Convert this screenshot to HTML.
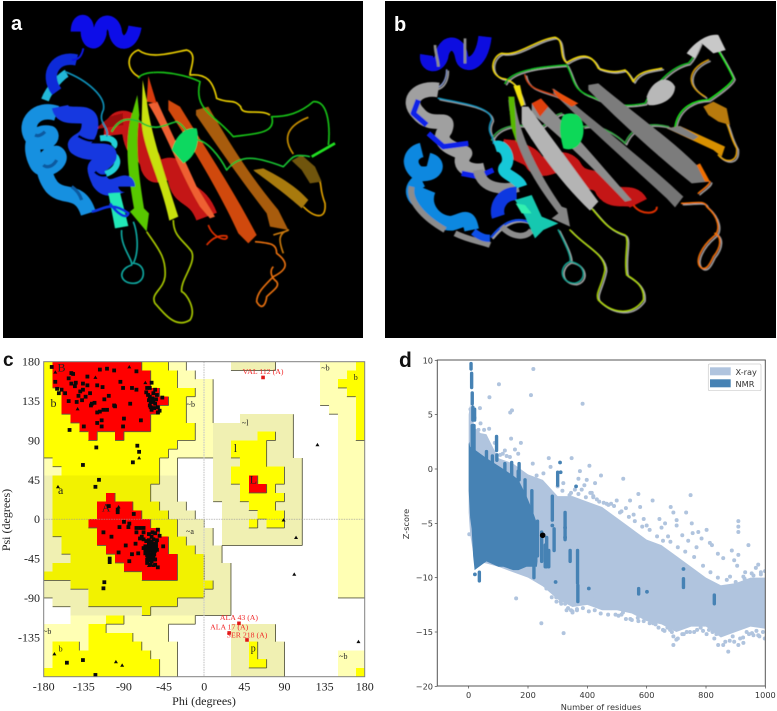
<!DOCTYPE html>
<html lang="en">
<head>
<meta charset="utf-8">
<title>Protein structure and validation figure</title>
<style>
html,body{margin:0;padding:0;background:#fff;width:777px;height:711px;overflow:hidden}
svg{display:block}
.lbl{font-family:"Liberation Sans",sans-serif;font-weight:700}
.serif{font-family:"Liberation Serif",serif}
.dv{font-family:"DejaVu Sans",sans-serif}
</style>
</head>
<body>
<svg id="fig" xmlns="http://www.w3.org/2000/svg" width="777" height="711" viewBox="0 0 777 711">
<defs>
<filter id="soft" x="-5%" y="-5%" width="110%" height="110%"><feGaussianBlur stdDeviation="1.4"/></filter>
<clipPath id="clipD"><rect x="437.3" y="360" width="328" height="326"/></clipPath>
</defs>

<!-- PANEL A -->
<rect x="3" y="1" width="360" height="337" fill="#000"/>
<g transform="scale(.33333)" filter="url(#soft)" fill="none" stroke-linejoin="round" stroke-linecap="butt">
  <path d="M345 405C340 355 390 350 400 400C410 470 445 440 455 500C475 545 510 470 535 530C545 600 590 570 620 650" stroke="#c41212" stroke-width="66"/>
  <path d="M285 388L330 350L368 340L370 375Z" fill="#981010"/>
  <path d="M625 675C640 720 690 725 680 708C660 705 640 710 620 735" stroke="#e03000" stroke-width="5"/>
  <path d="M910 620C940 650 980 665 975 610C960 570 965 560 960 545" stroke="#e0a000" stroke-width="5"/>
  <path d="M880 462C850 420 855 380 925 352" stroke="#c89000" stroke-width="5"/>
  <path d="M420 232C380 215 375 165 415 150C450 178 510 160 560 150C595 160 570 205 570 225C620 220 640 245 650 295C690 312 700 295 722 320C725 350 780 325 810 345" stroke="#e8cc00" stroke-width="5"/>
  <path d="M875 482L905 465L945 500L965 545L930 550L905 510Z" fill="#70540c"/>
  <path d="M760 510L790 505C840 530 890 560 925 600L905 625C860 585 800 540 765 515Z" fill="#a87a10"/>
  <path d="M588 330L625 320C700 450 760 540 835 630L865 690L810 680L800 640C730 550 660 450 588 345Z" fill="#a85c08"/>
  <path d="M505 300L540 320C620 450 700 570 770 705L745 730L715 700C670 600 590 460 505 330Z" fill="#d04808"/>
  <path d="M445 312L472 305C510 390 550 470 590 560L645 650L630 655L600 620C540 520 500 400 445 312Z" fill="#ee6030"/>
  <path d="M445 228L440 305L470 310Z" fill="#d83a10"/>
  <path d="M428 240L440 300C450 390 490 510 535 650L508 662C480 530 425 440 425 360Z" fill="#c8e010"/>
  <path d="M412 285L395 345C375 420 380 500 402 625L390 635L440 695L447 640L432 625C415 520 405 430 418 345Z" fill="#58c800"/>
  <path d="M170 340C110 320 70 370 95 410C120 440 165 420 150 400C100 390 85 440 110 490C130 530 200 480 170 460C120 460 125 520 155 560C190 600 240 560 265 640" stroke="#1890e0" stroke-width="46"/>
  <path d="M135 395C125 405 115 410 105 405M170 480C160 500 140 505 130 495M215 560C230 570 240 585 245 600" stroke="#0c5aa0" stroke-width="10"/>
  <path d="M135 300C150 260 190 225 200 220" stroke="#20b8d8" stroke-width="24"/>
  <path d="M300 415C340 410 350 430 340 440M300 525C350 520 365 480 340 465" stroke="#20d0d8" stroke-width="18"/>
  <path d="M230 180C170 165 130 220 170 275" stroke="#0a2ad8" stroke-width="34"/>
  <path d="M180 320C190 370 270 320 270 370C270 430 220 420 230 440C270 470 330 440 325 470C300 510 270 480 300 545C330 590 380 530 380 560" stroke="#1238e0" stroke-width="50"/>
  <path d="M235 408C255 420 275 425 290 420M285 515C295 525 305 530 320 525" stroke="#000" stroke-width="8"/>
  <path d="M232 95C232 55 262 55 262 90C260 130 290 140 300 100C300 60 335 55 345 90C350 140 395 140 405 80" stroke="#0a10e8" stroke-width="40"/>
  <path d="M250 145C245 170 235 180 215 180" stroke="#0a14e0" stroke-width="6"/>
  <path d="M325 580L345 685L385 678L360 578Z" fill="#20e8b8"/>
  <path d="M275 635C310 630 330 600 385 640C380 660 350 640 330 610" stroke="#1030e0" stroke-width="8"/>
  <path d="M195 215C260 240 320 290 310 330C290 370 330 380 320 410" stroke="#1090b8" stroke-width="5"/>
  <path d="M365 690C360 740 400 780 395 795C350 810 360 850 400 850C440 850 440 790 400 790C420 750 410 690 400 665" stroke="#10a8a0" stroke-width="5"/>
  <path d="M440 695C470 740 500 770 495 830C490 870 450 880 465 910C500 950 530 985 570 960C590 930 560 880 545 875C540 840 590 790 575 755C550 720 520 710 520 660" stroke="#a8c800" stroke-width="5"/>
  <path d="M765 725C810 730 830 730 830 760C870 790 860 810 820 830C790 860 770 880 770 905C790 940 800 900 800 890C820 870 840 860 830 845C810 830 810 810 820 800" stroke="#e87010" stroke-width="5"/>
  <path d="M820 705C850 695 860 695 865 690C835 700 835 720 850 760" stroke="#c87808" stroke-width="5"/>
  <path d="M415 235C430 205 540 215 600 245C580 330 640 340 700 410C770 400 830 400 815 350C860 350 900 340 940 305C990 300 990 400 985 435" stroke="#18c018" stroke-width="5"/>
  <path d="M335 395C360 350 390 355 420 365C470 400 500 370 530 365C560 380 560 410 590 420C620 420 660 470 680 510C720 460 770 470 850 500C880 470 880 460 930 470" stroke="#18c030" stroke-width="5"/>
  <path d="M515 450C530 400 560 380 590 385C600 420 590 470 550 490Z" fill="#10d860"/>
  <path d="M935 470L1005 430" stroke="#20e020" stroke-width="8"/>
</g>
<text class="lbl" x="11" y="30" font-size="20" fill="#fff">a</text>

<!-- PANEL B -->
<rect x="385" y="1" width="391" height="337" fill="#000"/>
<g id="proteinB" transform="translate(385 0) scale(.33333)" filter="url(#soft)" fill="none" stroke-linejoin="round" stroke-linecap="butt">
  <path d="M385 420C380 470 430 450 450 490C490 520 520 460 560 500C590 560 640 520 660 570C690 610 740 570 760 610" stroke="#c41212" stroke-width="58"/>
  <path d="M745 615C770 650 820 640 815 620" stroke="#e03000" stroke-width="6"/>
  <g id="loopsB" stroke-linecap="round">
    <path class="lp" d="M415 310C400 260 385 240 350 235C310 220 320 170 350 160C400 170 450 120 510 112C540 120 520 170 545 188C590 160 620 160 640 205C680 220 700 215 720 210C740 230 740 240 745 245C760 210 810 210 830 205" stroke="#e8d000" stroke-width="5"/>
    <path class="lp" d="M360 250C380 210 470 200 545 195C570 240 560 270 620 290C680 320 730 320 780 310C810 250 860 200 910 190C930 170 940 140 945 130" stroke="#10b820" stroke-width="5"/>
    <path class="lp" d="M870 380C880 320 930 300 970 300C1000 280 1040 250 1045 235C1030 200 1010 170 990 135" stroke="#18e018" stroke-width="5"/>
    <path class="lp" d="M1000 465C1020 490 1060 490 1055 445C1035 410 1035 390 1025 370" stroke="#e0a000" stroke-width="5"/>
    <path class="lp" d="M970 180C920 200 890 250 960 290" stroke="#d09800" stroke-width="5"/>
    <path class="lp" d="M320 420C340 370 420 370 460 385C490 375 500 345 530 340M595 380C640 370 690 400 720 430C740 380 790 365 850 380" stroke="#30a040" stroke-width="5"/>
    <path class="lp" d="M160 295C230 310 320 320 320 360C300 400 330 410 325 430" stroke="#1090b8" stroke-width="5"/>
    <path class="lp" d="M520 690C540 730 560 770 555 785C520 800 525 850 570 850C610 840 600 790 555 785" stroke="#10a090" stroke-width="5"/>
    <path class="lp" d="M555 690C600 740 660 760 660 810C650 860 630 880 640 900C680 940 740 950 775 900C780 860 750 840 725 825C715 770 735 720 720 705C670 690 650 660 620 625" stroke="#a8d000" stroke-width="5"/>
    <path class="lp" d="M890 610C930 610 960 600 965 620C1000 650 1010 690 985 710C950 740 930 780 945 800C965 820 980 780 985 770C1010 740 1010 710 990 700" stroke="#f07000" stroke-width="5"/>
    <path class="lp" d="M940 580C950 570 975 555 975 545" stroke="#f07000" stroke-width="5"/>
    <path class="lp" d="M320 710C360 660 400 650 440 670" stroke="#1048e0" stroke-width="7"/>
    <path class="lp" d="M420 225C430 280 490 270 540 300" stroke="#c84010" stroke-width="5"/>
    <path class="lp" d="M185 210C185 235 175 260 150 265" stroke="#8090c0" stroke-width="5"/>
  </g>
  <path d="M845 385L885 378L1020 440L1010 470L985 450Z" fill="#d89000"/>
  <path d="M845 385L885 378L940 410L925 420Z" fill="#808080"/>
  <path d="M955 320L985 305L1025 325L1035 375L1000 365L970 345Z" fill="#b87a10"/>
  <path d="M610 255L640 250C760 350 860 420 935 495L975 545L920 550C820 470 710 370 610 270Z" fill="#7c7c7c"/>
  <path d="M935 495L945 490L975 545L960 545Z" fill="#f07000"/>
  <path d="M505 265L540 290C660 390 790 490 895 590L870 622L845 595C730 490 620 390 505 280Z" fill="#747474"/>
  <path d="M500 265L580 310L560 320L520 295Z" fill="#e85010"/>
  <path d="M440 310L470 300C570 400 660 510 740 600L720 605C640 520 540 420 440 340Z" fill="#8c8c8c"/>
  <path d="M440 310L468 295L490 320L465 350Z" fill="#e04010"/>
  <path d="M410 320L430 320C490 400 570 510 640 605L615 632C540 560 470 470 410 370Z" fill="#b4b4b4"/>
  <path d="M385 258L405 255L418 315L408 320Z" fill="#f0e010"/>
  <path d="M370 300L388 295C400 400 460 520 530 620L545 625L555 680L500 655L520 640C450 550 380 440 370 300Z" fill="#858585"/>
  <path d="M370 290L388 290L395 430L378 380Z" fill="#58b800"/>
  <path d="M110 450C70 460 70 500 100 520C150 530 170 490 130 480M110 540C70 560 80 600 120 610M130 570C110 620 150 670 200 670C240 660 250 640 260 690" stroke="#1088e0" stroke-width="44"/>
  <path d="M80 560C70 600 110 650 180 690M210 700C250 720 290 725 315 735" stroke="#8c8c8c" stroke-width="18"/>
  <path d="M265 695C290 715 305 715 315 715" stroke="#0850e8" stroke-width="22"/>
  <path d="M160 270C100 260 60 300 100 340C140 390 200 340 180 390C150 430 210 450 240 460C210 500 260 520 300 510" stroke="#a0a0a0" stroke-width="44"/>
  <path d="M100 300L85 340L125 375M130 400L175 440L250 430M230 520L280 530L325 510" stroke="#0c20e8" stroke-width="16"/>
  <path d="M280 510C290 570 360 570 400 560" stroke="#909090" stroke-width="32"/>
  <path d="M330 440C360 430 380 480 360 500C340 520 400 530 410 560" stroke="#18c8d8" stroke-width="34"/>
  <path d="M395 580C350 580 330 620 340 650" stroke="#1038e0" stroke-width="40"/>
  <path d="M350 680C390 720 430 710 440 690" stroke="#8c8c8c" stroke-width="18"/>
  <path d="M390 600L440 585L470 650L520 670L475 690L450 715L420 650Z" fill="#18c8b0"/>
  <path d="M392 610L420 615L440 640L410 640Z" fill="#30f0b0"/>
  <path d="M125 165C120 200 160 205 170 170C175 125 220 115 230 170C235 205 290 200 300 110" stroke="#0a10e0" stroke-width="40"/>
  <path d="M150 135C150 160 160 180 160 200M240 115C240 145 240 170 240 190" stroke="#909090" stroke-width="8"/>
  <path d="M535 345C570 330 600 350 595 400C590 440 560 455 535 445C525 410 520 370 535 345Z" fill="#08d858"/>
  <path d="M785 290C800 240 850 220 870 260C870 300 820 320 790 315Z" fill="#b8b8b8"/>
  <path d="M905 160C930 125 970 100 1000 105L1022 150L985 160L950 130L930 175Z" fill="#c8c8c8"/>
</g>
<text class="lbl" x="394" y="31" font-size="20" fill="#fff">b</text>

<!-- PANEL C -->
<text class="lbl" x="3" y="366" font-size="19" fill="#111">c</text>
<g id="ramaRegions" shape-rendering="crispEdges"></g>
<path id="ramaEdges" fill="none" stroke="#5a5a40" stroke-width=".9"/>
<line x1="204" y1="361.7" x2="204" y2="676.7" stroke="#c8c8c8" stroke-width="1.2" stroke-dasharray="1.5 1"/>
<line x1="43.7" y1="519.2" x2="364.7" y2="519.2" stroke="#999" stroke-width=".6" stroke-dasharray="1.5 1"/>
<g id="ramaLabels" class="serif" fill="#222"></g>
<g id="ramaMarks"></g>
<g id="ramaOutliers"></g>
<rect x="43.7" y="361.7" width="321" height="315" fill="none" stroke="#808080" stroke-width="1"/>
<g id="ramaAxes" class="serif" font-size="12" fill="#222"></g>
<text class="serif" x="204" y="705" font-size="12" text-anchor="middle" fill="#222">Phi (degrees)</text>
<text class="serif" transform="translate(10 520) rotate(-90)" font-size="12" text-anchor="middle" fill="#222">Psi (degrees)</text>

<!-- PANEL D -->
<text class="lbl" x="399" y="367" font-size="21" fill="#111">d</text>
<g clip-path="url(#clipD)">
  <path id="xrayCloud" fill="#b0c4de"/>
  <g id="xrayPoints" fill="#b0c4de"></g>
  <path id="nmrCloud" fill="#4682b4"/>
  <g id="nmrStripes" stroke="#4682b4" stroke-width="3.4" stroke-linecap="round"></g>
  <g id="nmrPoints" fill="#4682b4"></g>
  <circle id="thisStructure" r="2.8" fill="#000"/>
</g>
<rect x="437.3" y="360" width="328" height="326" fill="none" stroke="#555" stroke-width="1"/>
<g id="zAxes" class="dv" font-size="8.2" fill="#333"></g>
<text class="dv" x="601" y="710" font-size="8.2" text-anchor="middle" fill="#333">Number of residues</text>
<text class="dv" transform="translate(409 524) rotate(-90)" font-size="8.2" text-anchor="middle" fill="#333">Z-score</text>
<g>
  <rect x="708.3" y="364" width="52.7" height="26.7" rx="1.5" fill="#fff" stroke="#ccc" stroke-width=".7"/>
  <rect x="710" y="367.3" width="20.7" height="8" fill="#b0c4de"/>
  <rect x="710" y="379.3" width="20.7" height="8" fill="#4682b4"/>
  <text class="dv" x="735.5" y="374.8" font-size="8.2" fill="#333">X-ray</text>
  <text class="dv" x="735.5" y="386.8" font-size="8.2" fill="#333">NMR</text>
</g>
</svg>

<script>
/* ---------- Ramachandran data (degrees) ---------- */
const phiTicks = [-180,-135,-90,-45,0,45,90,135,180];
const psiTicks = [180,135,90,45,0,-45,-90,-135];
/* rows: [psiTop, psiBottom, phiStart, phiEnd] */
const generousPale = [[180,170,-180,-20],[170,160,-180,-10],[160,70,-180,10],[70,50,-180,-30],[-110,-120,-150,-10],[-120,-140,-180,-40],[-140,-180,-180,-30],[180,130,130,180],[130,120,140,180],[120,-90,150,180],[-150,-180,150,180]];
const generousKhaki = [[50,20,-180,-30],[20,10,-180,-20],[10,0,-180,-10],[0,-10,-180,0],[-10,-30,-180,10],[-30,-50,-180,20],[-50,-90,-180,30],[-90,-100,-170,30],[-100,-110,-150,30],[180,170,30,80],[120,110,40,100],[110,70,10,100],[70,20,10,110],[20,-30,20,110],[-120,-140,30,80],[-140,-180,30,90]];
const allowedBright = [[180,170,-180,-40],[170,150,-180,-30],[150,140,-180,-10],[140,110,-180,-20],[110,90,-180,-10],[90,80,-180,-30],[80,70,-180,-40],[70,60,-170,-50],[60,50,-160,-50],[-110,-120,-110,-90],[-120,-130,-130,-110],[-130,-140,-130,-80],[-140,-150,-170,-140],[-140,-150,-130,-70],[-150,-160,-170,-60],[-160,-170,-170,-50],[-170,-180,-180,-50],[180,170,170,180],[170,160,160,180],[160,150,150,180],[150,140,160,180],[140,90,170,180],[-170,-180,170,180],[100,90,60,80],[90,70,30,70],[70,60,40,70],[60,40,30,90],[40,30,40,80],[30,20,40,90],[20,10,50,80],[10,0,60,90],[0,-10,50,60],[0,-10,70,90],[-140,-160,50,60],[-160,-170,50,70]];
const allowedDim = [[50,40,-170,-50],[40,20,-170,-60],[20,10,-170,-50],[10,0,-170,-40],[0,-20,-170,-30],[-20,-30,-160,-20],[-30,-40,-160,-10],[-40,-50,-150,0],[-50,-60,-170,0],[-60,-70,-180,0],[-70,-80,-150,10],[-80,-90,-130,0],[-90,-100,-130,-30],[-100,-110,-70,-60]];
const coreRed = [[180,170,-170,-70],[170,150,-170,-60],[150,140,-160,-50],[140,130,-160,-40],[130,120,-160,-50],[120,110,-150,-60],[110,100,-140,-60],[100,90,-130,-120],[100,90,-100,-90],[30,20,-110,-100],[20,10,-120,-80],[10,0,-120,-70],[0,-10,-130,-60],[-10,-20,-120,-50],[-20,-30,-120,-40],[-30,-40,-110,-40],[-40,-50,-100,-30],[-50,-60,-90,-30],[-60,-70,-70,-30],[50,40,50,60],[40,30,50,70]];
const regionLabelText = ["B","b","a","A","L","l","~l","~b","~a","~b","~b","b","b","~b","p"];
const regionLabelPhi  = [-160,-169,-161,-110,55,35,46,-15,-16,-176,136,170,-161,156,55];
const regionLabelPsi  = [169,128,29,9,41,77,107,128,-17,-131,170,159,-151,-160,-151];
const regionLabelSize = [12,12,12,12,12,12,8,8,8,8,8,8,8,8,10];
const squarePhi = [-171,-160,-156,-152,-149,-152,-147,-149,-144,-131,-136,-131,-136,-141,-143,-137,-133,-126,-127,-123,-120,-117,-109,-101,-114,-107,-112,-101,-100,-83,-94,-91,-81,-76,-76,-59,-64,-61,-55,-57,-61,-53,-47,-62,-60,-57,-55,-61,-59,-50,-52,-120,-117,-109,-113,-120,-115,-115,-135,-90,-91,-71,-151,-121,-75,-73,-136,-80,-118,-122,-107,-97,-97,-79,-90,-84,-85,-95,-113,-76,-72,-68,-76,-68,-62,-59,-50,-72,-68,-62,-57,-77,-88,-54,-46,-62,-58,-60,-56,-62,-58,-64,-60,-57,-53,-66,-81,-74,-84,-106,-106,-52,-64,-60,-55,-64,-55,-112,-113,-154,-136,-122,-167,-165,-163,-139,-145,-128,-104,-96,-58,-55,-52,-65,-62,-59,-56,-53,-66,-63,-60,-57,-54,-64,-61,-58,-55,-63,-60,-57,-62,-59,-56,-66,-61,-56,-68,-70,-63,-58,-54,-60,-56,-65,-52];
const squarePsi = [174,148,144,135,167,161,166,155,156,163,155,153,148,141,134,136,140,132,130,133,153,171,172,170,151,141,137,130,129,132,157,150,150,148,169,156,150,150,148,144,140,142,139,136,134,134,132,130,125,124,122,122,123,125,125,110,113,106,106,115,106,113,102,82,84,77,62,65,45,37,15,11,8,6,-3,-5,-9,-9,-15,-10,-10,-10,-15,-15,-17,-20,-19,-22,-23,-24,-23,-28,-30,-28,-31,-29,-29,-33,-33,-37,-37,-41,-41,-41,-35,-35,-40,-39,-48,-45,-49,-55,-50,-52,-52,-46,-46,-72,-79,-164,-161,-178,157,149,144,146,152,144,-20,-38,-15,-16,-12,-25,-27,-26,-28,-24,-31,-32,-30,-31,-32,-36,-35,-34,-36,-43,-44,-43,-47,-48,-46,-39,-29,-40,-33,-20,142,138,137,128,127,145,128];
const trianglePhi = [-167,-122,-84,-66,-142,-73,-164,-96,89,103,101,127,173,-168,-99,-92,-62,-57];
const trianglePsi = [168,162,174,156,126,70,37,14,-1,-21,-63,85,-140,-154,-163,-167,-53,-53];
const outlierNames = ["VAL 112 (A)","ALA 43 (A)","ALA 17 (A)","SER 218 (A)"];
const outlierPhi = [66,39,28,48];
const outlierPsi = [162,-119,-130,-138];
const outlierLabelPhi = [66,39,28,48];
const outlierLabelPsi = [166,-115,-126,-135];

/* ---------- Z-score plot data ---------- */
const zxTicks = [0,200,400,600,800,1000];
const zyTicks = [10,5,0,-5,-10,-15,-20];
const cloudResidues = [0,5,20,40,60,100,150,200,250,300,350,400,450,500,550,600,650,700,750,800,850,900,950,1000];
const cloudUpper = [5,6,3.8,3.3,3.2,1,.5,-.5,-1,-2.5,-2.5,-3,-3.5,-4.5,-5.5,-6.5,-7,-8,-9,-10,-10.7,-10.5,-10,-10];
const cloudLower = [-4,-6,-8.5,-8.6,-8.7,-9,-9.5,-10,-10.8,-12,-12.7,-12.5,-13,-13,-13.3,-14,-14.3,-15,-14.5,-14.5,-15.5,-15,-14.5,-14.7];
const nmrResidues = [0,2,5,10,15,20,50,60,100,117,150,168,195,215,230,232];
const nmrUpper = [2.3,2.5,2,2.2,2,1.8,1.2,1,.3,0,-.6,-1,-2.5,-3.8,-5,-6];
const nmrLower = [-2,-3,-4.5,-5.5,-8,-9.3,-8.7,-8.5,-9,-9,-9.3,-9.3,-9,-9,-9,-8.5];
const stripeResidues = [8,10,12,14,12,20,18,94,95,170,190,213,300,282,263,258,270,288,325,342,367,368,220,36,167,122,573,724,828,60,80,145,232,246];
const stripeTop = [9.7,8.8,7,5.7,4,5.5,4,3,1.3,.5,-1,-2,-.3,-2.5,-6.3,-7,-7.5,-5.5,-4,-7.5,-7.5,-10.7,-8.5,-9.5,-.2,.5,-11,-10.1,-11.6,1.6,1.2,.6,-4.8,-5.8];
const stripeBottom = [9.2,7.5,6,4.5,.5,4.5,1,1.7,.8,-1,-2.5,-4,-1.5,-4.7,-9,-9,-9,-7.5,-6.5,-8.5,-10.5,-12.2,-10,-10.3,-1,-.5,-11.5,-10.9,-12.4,-.5,.2,-.6,-8,-8.5];
const nmrDotResidues = [308,310,362,293,405,601,724,21,325,325,282];
const nmrDotZ = [.6,-.3,-1.6,-10.4,-11,-11.3,-9.2,-9.7,-5.4,-6.3,-5.2];
const xrayResidues = [218,102,210,70,384,146,140,38,33,69,143,176,156,122,106,167,139,270,347,216,407,276,375,446,521,370,398,426,572,748,620,471,499,544,578,681,733,690,643,662,701,701,752,909,909,909,755,774,802,813,785,943,887,909,976,999,954,926,881,2,160,909,926,875,690,690,976,960,802,841,858,746,679,622,572,999,937,381,415,420,319,229,252,10,6,20,40,52,88,115,128,300,316,340,358,390,410,432,455,480,510,530,556,590,600,650,672,720,740,768,820,840,858,895,905,932,968,985,312,330,350,365,640,660,700,720,760,790,828,848,865,890,915,945,980,998,990,280,296,335,350,425,450,480,505,530,520,550,590,245,262,278,295,310,325,345,365,385,405,425,445,470,495,515,545,570,610,630,655,670,685,705,725,735,770,782,810,822,835,880,895,925,955,970,992,320,345,370,395,420,440,465,490,515,540,560,585,610,635,655,680,705,730,760,790,815,840,870,900,930,960,985];
const xrayZ = [9.2,7.8,6.8,6.6,6,5.4,5.2,5.6,3.6,3.7,2.8,2.4,1.8,1.7,1.3,1.4,1.1,1,1,.5,.3,.2,-.2,-.6,-.9,-.9,-1,-1.3,-2.3,-2.4,-2.9,-3.3,-2.9,-2.9,-3.5,-3.5,-4,-4,-4.6,-5,-4.7,-5.2,-5,-4.8,-5.3,-5.8,-5.9,-5.8,-5.6,-6.8,-6.4,-7,-7.5,-7.9,-8.8,-9.4,-9.6,-9.9,-9.9,-6,-11.9,-16.2,-16,-16.8,-16.2,-15.4,-15.3,-15.3,-15.2,-16.2,-16.2,-15,-14.8,-14.2,-14,-14.5,-15,-1.9,-2.2,-2.5,-1.3,-.6,-.4,4.5,5.5,4.7,4.2,3.6,2.4,1.4,1.2,-1.6,-2,-2.4,-1.9,-1.5,-2.2,-2.8,-3.1,-3.2,-4,-3.6,-4.2,-4.6,-5.2,-5.4,-6.2,-6.1,-6.6,-7.2,-7,-7.8,-8.2,-8.4,-8.9,-9.5,-9.1,-9.5,-12.4,-13,-13.1,-12.9,-14.6,-14.9,-15.7,-15.2,-15,-14.9,-15.6,-15,-15.9,-15.4,-15.6,-15.2,-15.4,-15.6,-13.5,-11.8,-12.2,-12.8,-13.2,-11.7,-12,-12.8,-13.5,-13.8,-13.2,-13.9,-14,-14.2,-11,-11.2,-11.8,-12.2,-12.4,-13,-13,-12.8,-13.1,-13,-13.3,-13.4,-13.4,-13.4,-13.8,-13.7,-14.2,-14.3,-14.8,-14.6,-15,-15.6,-15.2,-15,-14.8,-14.6,-14.8,-15,-15.2,-15.8,-15.9,-15.5,-15.1,-14.9,-15,-15.1,-2.2,-2.3,-2.6,-2.6,-3,-3.2,-3.4,-3.9,-4.4,-4.8,-5.3,-5.6,-6.2,-6.6,-6.7,-7.2,-7.6,-8.1,-8.9,-9.5,-10,-10.2,-10.4,-10.1,-9.8,-9.7,-9.6];
const thisResidues = [249.5];
const thisZ = [-6.1];

const NS = 'http://www.w3.org/2000/svg';
function mk(tag, parent){ const e = document.createElementNS(NS, tag); parent.appendChild(e); return e; }

/* ---------- Ramachandran axes ---------- */
const phiX = p => 43.7 + (p + 180) * 321 / 360;
const psiY = s => 361.7 + (180 - s) * 315 / 360;

const regionsG = document.getElementById('ramaRegions');
const grid = [];
for (let j = 0; j < 36; j++) grid.push(new Array(36).fill(0));
function paintRows(rows, color, rank){
  rows.forEach(r => {
    const el = mk('rect', regionsG);
    
    
    el.setAttribute('x', phiX(r[2]));
    el.setAttribute('y', psiY(r[0]));
    el.setAttribute('width', phiX(r[3]) - phiX(r[2]));
    el.setAttribute('height', psiY(r[1]) - psiY(r[0]));
    el.setAttribute('fill', color);
    for (let s = r[1]; s < r[0]; s += 10) for (let p = r[2]; p < r[3]; p += 10)
      grid[(180 - s - 10) / 10][(p + 180) / 10] = rank;
  });
}
paintRows(generousPale, '#ffffb4', 1);
paintRows(generousKhaki, '#f0f0b2', 1);
paintRows(allowedBright, '#ffff00', 2);
paintRows(allowedDim, '#f2f200', 2);
paintRows(coreRed, '#ff0000', 3);

let edgeD = '';
for (let j = 0; j < 36; j++) for (let i = 0; i < 36; i++) {
  const c = grid[j][i]; if (!c) continue;
  const px = -180 + i * 10, sy = 180 - j * 10;
  if (i < 35 && grid[j][i + 1] < c) edgeD += `M${phiX(px + 10)} ${psiY(sy)}V${psiY(sy - 10)}`;
  if (j < 35 && grid[j + 1][i] < c) edgeD += `M${phiX(px)} ${psiY(sy - 10)}H${phiX(px + 10)}`;
}
document.getElementById('ramaEdges').setAttribute('d', edgeD);

const labelsG = document.getElementById('ramaLabels');
regionLabelText.forEach((t, i) => {
  const el = mk('text', labelsG);
  
  
  el.setAttribute('x', phiX(regionLabelPhi[i]));
  el.setAttribute('y', psiY(regionLabelPsi[i]));
  el.setAttribute('font-size', regionLabelSize[i]);
  el.setAttribute('text-anchor', 'middle');
  el.textContent = t;
});

const marksG = document.getElementById('ramaMarks');
squarePhi.forEach((p, i) => {
  const el = mk('rect', marksG);
  
  
  el.setAttribute('x', phiX(p) - 1.9);
  el.setAttribute('y', psiY(squarePsi[i]) - 1.9);
  el.setAttribute('width', 3.8);
  el.setAttribute('height', 3.8);
  el.setAttribute('fill', '#0a0a0a');
});
trianglePhi.forEach((p, i) => {
  const x = phiX(p), y = psiY(trianglePsi[i]);
  const el = mk('polygon', marksG);
  
  
  el.setAttribute('points', `${x},${y - 2} ${x + 2},${y + 1.4} ${x - 2},${y + 1.4}`);
  el.setAttribute('fill', '#0a0a0a');
});
const outG = document.getElementById('ramaOutliers');
outlierNames.forEach((n, i) => {
  const box = mk('rect', outG);
  
  
  box.setAttribute('x', phiX(outlierPhi[i]) - 1.8);
  box.setAttribute('y', psiY(outlierPsi[i]) - 1.8);
  box.setAttribute('width', 3.6);
  box.setAttribute('height', 3.6);
  box.setAttribute('fill', '#e01818');
  const tx = mk('text', outG);
  
  
  tx.setAttribute('x', phiX(outlierLabelPhi[i]));
  tx.setAttribute('y', psiY(outlierLabelPsi[i]));
  tx.setAttribute('font-size', 7.8);
  tx.setAttribute('text-anchor', 'middle');
  tx.setAttribute('fill', '#f02828');
  tx.setAttribute('style', 'font-family:"Liberation Serif",serif');
  tx.textContent = n;
});
const ramaAxes = document.getElementById('ramaAxes');
phiTicks.forEach(t => {
  const el = mk('text', ramaAxes);
  
  
  el.setAttribute('x', phiX(t));
  el.setAttribute('y', 690.5);
  el.setAttribute('text-anchor', 'middle');
  el.textContent = t;
});
psiTicks.forEach(t => {
  const el = mk('text', ramaAxes);
  
  
  el.setAttribute('x', 40);
  el.setAttribute('y', psiY(t) + 4);
  el.setAttribute('text-anchor', 'end');
  el.textContent = t;
});

/* ---------- Z-score axes ---------- */
const resX = n => 468.67 + n * 0.29667;
const zY = z => 469 - z * 10.867;
function bandPath(xs, up, lo){
  let d = '';
  xs.forEach((x, i) => { d += (i ? 'L' : 'M') + resX(x) + ' ' + zY(up[i]); });
  for (let i = xs.length - 1; i >= 0; i--) d += 'L' + resX(xs[i]) + ' ' + zY(lo[i]);
  return d + 'Z';
}
document.getElementById('xrayCloud').setAttribute('d', bandPath(cloudResidues, cloudUpper, cloudLower));
document.getElementById('nmrCloud').setAttribute('d', bandPath(nmrResidues, nmrUpper, nmrLower));

const xrayG = document.getElementById('xrayPoints');
xrayResidues.forEach((n, i) => {
  const el = mk('circle', xrayG);
  
  
  el.setAttribute('cx', resX(n));
  el.setAttribute('cy', zY(xrayZ[i]));
  el.setAttribute('r', 2);
});
const stripeG = document.getElementById('nmrStripes');
stripeResidues.forEach((n, i) => {
  const el = mk('line', stripeG);
  
  
  el.setAttribute('x1', resX(n));
  el.setAttribute('x2', resX(n));
  el.setAttribute('y1', zY(stripeTop[i]));
  el.setAttribute('y2', zY(stripeBottom[i]));
});
const nmrG = document.getElementById('nmrPoints');
nmrDotResidues.forEach((n, i) => {
  const el = mk('circle', nmrG);
  
  
  el.setAttribute('cx', resX(n));
  el.setAttribute('cy', zY(nmrDotZ[i]));
  el.setAttribute('r', 1.9);
});
const me = document.getElementById('thisStructure');
me.setAttribute('cx', resX(thisResidues[0]));
me.setAttribute('cy', zY(thisZ[0]));

const zAxes = document.getElementById('zAxes');
zxTicks.forEach(t => {
  const tick = mk('line', zAxes);
  
  
  tick.setAttribute('x1', resX(t));
  tick.setAttribute('x2', resX(t));
  tick.setAttribute('y1', 686);
  tick.setAttribute('y2', 688.5);
  tick.setAttribute('stroke', '#444');
  tick.setAttribute('stroke-width', .7);
  const el = mk('text', zAxes);
  
  
  el.setAttribute('x', resX(t));
  el.setAttribute('y', 698);
  el.setAttribute('text-anchor', 'middle');
  el.textContent = t;
});
zyTicks.forEach(t => {
  const tick = mk('line', zAxes);
  
  
  tick.setAttribute('x1', 434.8);
  tick.setAttribute('x2', 437.3);
  tick.setAttribute('y1', zY(t));
  tick.setAttribute('y2', zY(t));
  tick.setAttribute('stroke', '#444');
  tick.setAttribute('stroke-width', .7);
  const el = mk('text', zAxes);
  
  
  el.setAttribute('x', 433);
  el.setAttribute('y', zY(t) + 3);
  el.setAttribute('text-anchor', 'end');
  el.textContent = String(t).replace('-', '\u2212');
});

/* gray superposed copy of the loops in panel b */
const loopsB = document.getElementById('loopsB');
Array.from(loopsB.querySelectorAll('.lp')).forEach(p => {
  const copy = p.cloneNode(false);
  
  copy.setAttribute('stroke', '#a0a0a0');
  copy.setAttribute('transform', 'translate(5 4)');
  loopsB.insertBefore(copy, loopsB.firstChild);
});
</script>
</body>
</html>
